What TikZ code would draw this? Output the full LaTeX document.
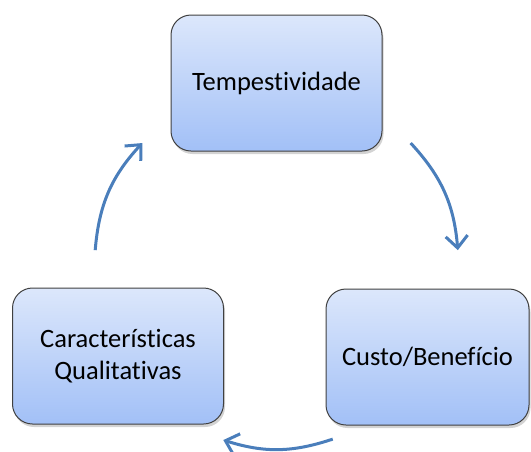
\documentclass[tikz,border=0pt]{standalone}
\usepackage{fontspec}
\setmainfont{Carlito}[Ligatures=NoCommon]
\usetikzlibrary{positioning, arrows.meta, shadows}

\definecolor{boxtop}{HTML}{DCE7FB}
\definecolor{boxbottom}{HTML}{A2C0F7}
\definecolor{boxline}{HTML}{404040}
\definecolor{flowblue}{HTML}{4A7EBB}

\begin{document}
\begin{tikzpicture}[x=1pt, y=1pt, on grid, auto,
    box/.style={draw=boxline, line width=1pt, rounded corners=20pt,
        top color=boxtop, bottom color=boxbottom,
        minimum width=211pt, minimum height=136pt, align=center,
        font=\fontsize{26.5}{32}\selectfont,
        drop shadow={shadow xshift=1.5pt, shadow yshift=-3pt, opacity=0.35}},
    flow/.style={draw=flowblue, line width=3pt,
        -{Straight Barb[length=12pt, width=22pt, line width=3pt]}}]
    \useasboundingbox (0,0) rectangle (531,-451);

    \node[box] (tempo) at (276.5,-83) {Tempestividade};
    \node[box, minimum width=203pt] (custo) [below right=274pt and 151pt of tempo] {Custo/Benefício};
    \node[box] (carac) [below left=273pt and 158.5pt of tempo] {Características\\Qualitativas};

    \coordinate (hub) at ([yshift=-183pt]tempo.center);
    \coordinate (t1) at ([shift={(42.5:182pt)}]hub);
    \coordinate (t2) at ([shift={(5:182pt)}]hub);
    \coordinate (c1) at ([shift={(-72:182pt)}]hub);
    \coordinate (c2) at ([shift={(-107:182pt)}]hub);
    \coordinate (q1) at ([shift={(175:182pt)}]hub);
    \coordinate (q2) at ([shift={(137.5:182pt)}]hub);

    \path
        (t1) edge [flow, bend left=19] (t2)
        (c1) edge [flow, bend left=18] (c2)
        (q1) edge [flow, bend left=19] (q2);

\end{tikzpicture}
\end{document}
